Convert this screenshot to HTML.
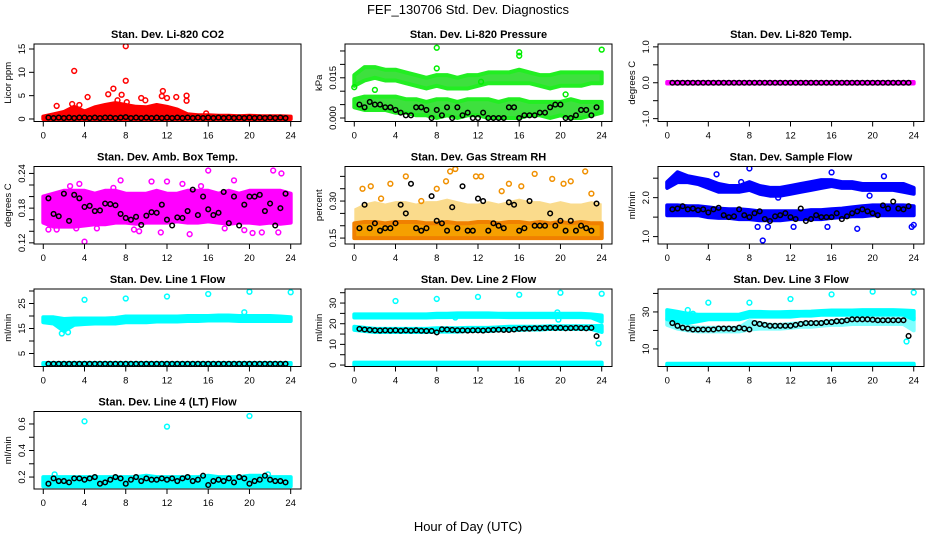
<!DOCTYPE html>
<html><head><meta charset="utf-8">
<style>
body{margin:0;background:#fff;}
svg{display:block;font-family:"Liberation Sans",sans-serif;}
</style></head>
<body>
<svg id="chart" width="936" height="540" viewBox="0 0 936 540" xmlns="http://www.w3.org/2000/svg">
<text x="468" y="14" text-anchor="middle" font-size="13">FEF_130706  Std. Dev. Diagnostics</text>
<text x="468" y="531" text-anchor="middle" font-size="13">Hour of Day (UTC)</text>
</svg>
<script>
// ---------- data ----------
const bandHours = [0,1,2,3,4,5,6,7,8,9,10,11,12,13,14,15,16,17,18,19,20,21,22,23,24];
const halfHours = [0.5,1,1.5,2,2.5,3,3.5,4,4.5,5,5.5,6,6.5,7,7.5,8,8.5,9,9.5,10,10.5,11,11.5,12,12.5,13,13.5,14,14.5,15,15.5,16,16.5,17,17.5,18,18.5,19,19.5,20,20.5,21,21.5,22,22.5,23,23.5];
const xTicks = [0,4,8,12,16,20,24];

// Li-820 CO2
const co2Lo = [0,0,0,0,0,0,0,0,0,0,0,0,0,0,0,0,0,0,0,0,0,0,0,0,0];
const co2Hi = [0.5,1.0,1.5,2.6,1.6,2.5,3.0,3.4,3.0,2.6,2.5,3.0,2.6,2.0,1.0,0.8,0.8,0.7,0.7,0.6,0.7,0.6,0.6,0.6,0.5];
const co2OutX = [3,8,8,2.8,1.3,4.3,6.8,6.3,7.6,8.1,9.5,9.9,11.6,11.5,12,13.9,13.9,12.9,7.2,15.8,3.5];
const co2OutY = [10.3,15.6,8.2,3.2,2.8,4.7,6.5,5.3,5.2,3.6,4.5,4.0,6.0,4.9,4.5,5.0,3.9,4.7,4.0,1.2,3.0];
const co2Black = [0.3,0.2,0.3,0.2,0.3,0.2,0.3,0.3,0.2,0.3,0.2,0.3,0.3,0.2,0.3,0.4,0.2,0.3,0.2,0.3,0.2,0.3,0.2,0.3,0.2,0.3,0.2,0.3,0.2,0.3,0.2,0.3,0.2,0.3,0.2,0.3,0.2,0.3,0.2,0.3,0.2,0.3,0.2,0.3,0.2,0.3,0.2];

// Li-820 Pressure
const presUpLo = [0.012,0.014,0.015,0.014,0.014,0.013,0.012,0.011,0.012,0.011,0.011,0.011,0.012,0.013,0.013,0.013,0.013,0.013,0.012,0.011,0.012,0.012,0.012,0.013,0.013];
const presUpHi = [0.016,0.019,0.019,0.018,0.018,0.017,0.016,0.015,0.016,0.016,0.015,0.016,0.016,0.017,0.017,0.017,0.018,0.017,0.016,0.016,0.017,0.017,0.017,0.017,0.017];
const presLowLo = [0.004,0.003,0.003,0.003,0.002,0.002,0.001,0.001,0.000,0.001,0.000,0.001,0.001,0.000,0.000,0.000,0.000,0.001,0.001,0.000,0.001,0.000,0.000,0.001,0.002];
const presLowHi = [0.007,0.008,0.008,0.008,0.008,0.007,0.007,0.006,0.007,0.007,0.006,0.007,0.007,0.007,0.006,0.007,0.007,0.006,0.006,0.006,0.006,0.007,0.006,0.006,0.006];
const presOutX = [8,16,16,24,8,0,2,12.3,20.5];
const presOutY = [0.0262,0.0245,0.0232,0.0255,0.0185,0.0115,0.0105,0.0135,0.0088];
const presBlack = [0.005,0.004,0.006,0.005,0.005,0.004,0.004,0.003,0.002,0.001,0.001,0.004,0.004,0.003,0.000,0.003,0.001,0.004,0.000,0.004,0.001,0.002,0.000,0.000,0.002,0.000,0.000,0.000,0.000,0.004,0.004,0.000,0.001,0.001,0.001,0.002,0.002,0.004,0.005,0.005,0.000,0.000,0.001,0.003,0.003,0.001,0.004];

// Li-820 Temp
const tempLo = [-0.02,-0.02,-0.02,-0.02,-0.02,-0.02,-0.02,-0.02,-0.02,-0.02,-0.02,-0.02,-0.02,-0.02,-0.02,-0.02,-0.02,-0.02,-0.02,-0.02,-0.02,-0.02,-0.02,-0.02,-0.02];
const tempHi = [0.02,0.02,0.02,0.02,0.02,0.02,0.02,0.02,0.02,0.02,0.02,0.02,0.02,0.02,0.02,0.02,0.02,0.02,0.02,0.02,0.02,0.02,0.02,0.02,0.02];
const tempBlack = [0,0,0,0,0,0,0,0,0,0,0,0,0,0,0,0,0,0,0,0,0,0,0,0,0,0,0,0,0,0,0,0,0,0,0,0,0,0,0,0,0,0,0,0,0,0,0];

// Amb. Box Temp
const boxLo = [0.155,0.148,0.148,0.148,0.150,0.152,0.152,0.155,0.155,0.153,0.155,0.155,0.155,0.157,0.155,0.155,0.157,0.155,0.153,0.155,0.155,0.153,0.155,0.153,0.155];
const boxHi = [0.200,0.205,0.210,0.210,0.210,0.205,0.210,0.210,0.205,0.205,0.205,0.210,0.205,0.205,0.210,0.210,0.210,0.205,0.210,0.205,0.210,0.210,0.210,0.210,0.205];
const boxOutX = [4,3.5,7.5,10.5,12,16,18.5,22.3,23.1,19.5,20.3,9.3,21.2,1.3,5.2,8.8,11.4,14.2,17.6,22.8,3.2,6.8,0.5,13.5,15.3,2.6];
const boxOutY = [0.122,0.222,0.228,0.226,0.226,0.245,0.228,0.245,0.240,0.142,0.137,0.140,0.138,0.143,0.145,0.143,0.138,0.135,0.145,0.138,0.145,0.215,0.143,0.222,0.218,0.218];
const boxBlack = [0.197,0.170,0.166,0.205,0.158,0.203,0.197,0.182,0.184,0.175,0.176,0.188,0.187,0.185,0.170,0.163,0.160,0.165,0.151,0.167,0.173,0.172,0.186,0.160,0.150,0.164,0.163,0.175,0.212,0.168,0.200,0.178,0.168,0.172,0.208,0.154,0.200,0.150,0.186,0.200,0.200,0.203,0.175,0.188,0.150,0.180,0.205];

// Gas Stream RH
const rhLo = [0.150,0.150,0.150,0.150,0.150,0.150,0.150,0.150,0.150,0.150,0.150,0.150,0.150,0.150,0.150,0.150,0.150,0.150,0.150,0.150,0.150,0.150,0.150,0.150,0.150];
const rhHi = [0.210,0.215,0.215,0.210,0.215,0.215,0.215,0.210,0.210,0.215,0.210,0.210,0.215,0.215,0.210,0.215,0.215,0.210,0.215,0.210,0.215,0.210,0.215,0.210,0.210];
const rhMidHi = [0.270,0.290,0.300,0.290,0.300,0.300,0.290,0.300,0.300,0.310,0.300,0.290,0.290,0.300,0.290,0.300,0.310,0.300,0.300,0.290,0.300,0.290,0.290,0.300,0.290];
const rhOutX = [0.8,1.6,3.5,5,8,9.3,9.8,8.9,11.8,12.3,15,16.2,17.5,19.2,20.3,21,23,14.3,6.5,2.6,22.4];
const rhOutY = [0.35,0.36,0.37,0.40,0.35,0.42,0.43,0.38,0.40,0.40,0.37,0.36,0.41,0.39,0.37,0.38,0.33,0.34,0.30,0.31,0.42];
const rhBlack = [0.19,0.285,0.19,0.21,0.18,0.19,0.19,0.21,0.285,0.25,0.37,0.19,0.18,0.19,0.32,0.22,0.21,0.18,0.275,0.19,0.36,0.18,0.18,0.31,0.30,0.18,0.21,0.20,0.19,0.295,0.285,0.18,0.19,0.30,0.20,0.20,0.20,0.25,0.20,0.22,0.18,0.22,0.18,0.20,0.19,0.18,0.29];

// Sample Flow
const sfUpLo = [2.25,2.40,2.40,2.35,2.25,2.15,2.15,2.15,2.20,2.10,2.05,2.05,2.10,2.15,2.20,2.25,2.30,2.25,2.25,2.20,2.20,2.20,2.20,2.15,2.10];
const sfUpHi = [2.40,2.65,2.55,2.50,2.45,2.35,2.30,2.30,2.40,2.30,2.25,2.25,2.30,2.35,2.40,2.45,2.45,2.40,2.40,2.35,2.35,2.35,2.35,2.35,2.25];
const sfLowLo = [1.55,1.55,1.55,1.55,1.50,1.48,1.48,1.45,1.45,1.42,1.42,1.42,1.45,1.45,1.45,1.45,1.48,1.50,1.52,1.52,1.55,1.55,1.55,1.55,1.55];
const sfLowHi = [1.80,1.80,1.78,1.78,1.75,1.72,1.70,1.70,1.68,1.65,1.65,1.65,1.65,1.65,1.68,1.68,1.70,1.72,1.75,1.78,1.80,1.80,1.80,1.80,1.78];
const sfOutX = [4.8,8,9.3,7.2,16,21.1,10.8,15.6,8.8,9.8,23.8,24,19.7,18.5,12.3];
const sfOutY = [2.60,2.75,0.90,2.40,2.65,2.55,2.00,1.25,1.25,1.25,1.25,1.30,2.05,1.20,1.25];
const sfBlack = [1.70,1.72,1.78,1.70,1.72,1.68,1.70,1.62,1.70,1.74,1.55,1.50,1.52,1.70,1.55,1.50,1.60,1.65,1.45,1.40,1.52,1.55,1.60,1.50,1.45,1.72,1.40,1.45,1.55,1.50,1.50,1.50,1.60,1.45,1.52,1.60,1.65,1.70,1.65,1.60,1.55,1.80,1.72,1.90,1.72,1.70,1.78];

// Line 1 Flow
const l1UpLo = [17.5,17.0,14.0,16.5,16.8,17.0,17.0,17.0,17.5,17.5,17.5,17.8,17.8,17.8,18.0,18.0,18.2,18.2,18.2,18.0,18.0,18.0,18.0,18.0,18.0];
const l1UpHi = [19.5,19.5,18.8,19.0,19.0,19.0,19.0,19.2,19.8,19.8,19.8,19.8,19.8,19.8,20.0,20.0,20.0,20.2,20.2,20.0,20.0,20.0,20.0,19.8,19.5];
const l1LowLo = [0.6,0.6,0.6,0.6,0.6,0.6,0.6,0.6,0.6,0.6,0.6,0.6,0.6,0.6,0.6,0.6,0.6,0.6,0.6,0.6,0.6,0.6,0.6,0.6,0.6];
const l1LowHi = [1.2,1.2,1.2,1.2,1.2,1.2,1.2,1.2,1.2,1.2,1.2,1.2,1.2,1.2,1.2,1.2,1.2,1.2,1.2,1.2,1.2,1.2,1.2,1.2,1.2];
const l1OutX = [4,8,12,16,20,24,19.5,1.8,2.4];
const l1OutY = [26.5,27.0,27.8,28.8,29.7,29.5,21.5,13.0,13.5];
const l1Black = [0.9,0.9,0.9,0.9,0.9,0.9,0.9,0.9,0.9,0.9,0.9,0.9,0.9,0.9,0.9,0.9,0.9,0.9,0.9,0.9,0.9,0.9,0.9,0.9,0.9,0.9,0.9,0.9,0.9,0.9,0.9,0.9,0.9,0.9,0.9,0.9,0.9,0.9,0.9,0.9,0.9,0.9,0.9,0.9,0.9,0.9,0.9];

// Line 2 Flow
const l2UpLo = [23.0,23.0,23.0,23.0,23.0,23.0,23.0,23.0,23.2,23.2,23.3,23.3,23.3,23.3,23.3,23.2,23.2,23.2,23.2,23.2,23.2,23.2,23.2,23.0,21.0];
const l2UpHi = [24.5,24.5,24.5,24.5,24.5,24.5,24.5,24.5,24.8,24.8,25.0,25.0,25.0,25.0,24.8,24.8,24.8,24.8,24.8,24.8,24.8,24.8,24.8,24.5,24.0];
const l2MidLo = [17.0,16.5,16.0,16.0,16.0,16.0,16.0,16.0,16.2,16.2,16.2,16.5,16.5,16.5,16.8,17.0,17.0,17.2,17.2,17.5,17.5,17.5,17.5,17.5,16.0];
const l2MidHi = [18.5,18.0,17.5,17.5,17.5,17.5,17.5,17.5,17.8,17.8,17.8,18.0,18.0,18.0,18.2,18.5,18.5,18.5,18.5,18.8,18.8,18.8,18.8,18.8,19.0];
const l2LowLo = [0,0,0,0,0,0,0,0,0,0,0,0,0,0,0,0,0,0,0,0,0,0,0,0,0];
const l2LowHi = [1.2,1.2,1.2,1.2,1.2,1.2,1.2,1.2,1.2,1.2,1.2,1.2,1.2,1.2,1.2,1.2,1.2,1.2,1.2,1.2,1.2,1.2,1.2,1.2,1.2];
const l2OutX = [4,8,12,16,20,24,23.7,19.7,19.8,9.8];
const l2OutY = [31.0,32.0,33.0,34.0,35.0,34.5,10.5,25.5,22.0,23.0];
const l2Black = [17.5,17.2,17.0,16.8,16.7,16.8,16.7,16.8,16.6,16.8,16.6,16.8,16.6,16.5,16.5,15.8,17.3,17.2,17.0,16.8,16.8,16.7,16.8,16.8,16.7,16.9,17.0,17.1,17.0,17.0,17.2,17.5,17.6,17.6,17.8,17.8,17.9,18.0,17.9,18.0,17.8,17.9,18.0,17.9,17.8,18.0,14.0];

// Line 3 Flow
const l3UpLo = [26.0,25.0,24.0,25.0,26.0,26.0,26.0,26.0,27.5,27.5,27.5,27.5,27.5,28.0,28.0,28.5,28.5,28.5,28.5,28.5,28.5,28.5,28.5,28.5,26.0];
const l3UpHi = [31.0,30.0,29.0,28.5,28.5,28.5,28.5,28.5,30.0,30.0,29.8,29.8,30.0,30.0,30.2,30.5,30.8,30.8,30.8,31.0,31.0,31.0,31.0,30.8,30.5];
const l3MidLo = [23.0,21.0,20.0,19.5,19.5,19.5,19.5,19.5,20.5,21.0,21.0,21.0,21.5,22.0,22.0,22.5,23.0,23.0,23.5,23.5,23.5,23.5,23.5,23.5,20.0];
const l3MidHi = [26.0,23.0,22.0,21.5,21.5,21.5,21.5,21.5,25.0,24.0,23.0,23.0,23.5,24.0,24.0,24.5,25.0,25.5,26.0,26.0,26.0,26.0,26.0,26.0,27.0];
const l3LowLo = [0,0,0,0,0,0,0,0,0,0,0,0,0,0,0,0,0,0,0,0,0,0,0,0,0];
const l3LowHi = [2.0,2.0,2.0,2.0,2.0,2.0,2.0,2.0,2.0,2.0,2.0,2.0,2.0,2.0,2.0,2.0,2.0,2.0,2.0,2.0,2.0,2.0,2.0,2.0,2.0];
const l3OutX = [4,8,12,16,20,24,2,2.5,23.3];
const l3OutY = [35.0,35.0,37.0,39.5,41.0,40.5,31.0,29.0,14.0];
const l3Black = [24.0,22.5,21.5,21.0,20.5,20.5,20.5,20.5,20.5,21.0,21.0,21.0,20.8,21.5,21.0,20.5,24.0,23.5,23.0,22.5,22.5,22.5,22.5,22.5,23.0,23.5,24.0,24.0,24.0,24.0,24.5,24.5,25.0,25.0,25.5,26.0,26.0,26.0,26.0,25.8,25.5,25.5,25.5,25.5,25.5,25.5,17.0];

// Line 4 (LT) Flow
const l4Lo = [0.13,0.13,0.13,0.13,0.13,0.13,0.13,0.13,0.13,0.13,0.13,0.13,0.13,0.13,0.13,0.13,0.13,0.13,0.13,0.13,0.13,0.13,0.13,0.13,0.13];
const l4Hi = [0.20,0.20,0.20,0.20,0.20,0.20,0.20,0.20,0.20,0.20,0.21,0.20,0.20,0.20,0.20,0.20,0.21,0.20,0.20,0.20,0.21,0.21,0.20,0.20,0.20];
const l4OutX = [4,12,20,1.1,21.8];
const l4OutY = [0.62,0.58,0.66,0.22,0.22];
const l4Black = [0.15,0.19,0.17,0.17,0.16,0.19,0.19,0.18,0.19,0.20,0.15,0.16,0.18,0.20,0.19,0.15,0.18,0.20,0.17,0.19,0.18,0.18,0.19,0.18,0.19,0.17,0.19,0.20,0.17,0.18,0.21,0.14,0.17,0.18,0.17,0.19,0.16,0.20,0.19,0.15,0.17,0.18,0.21,0.18,0.17,0.17,0.16];

// ---------- layout ----------
const cols = [[34,301],[345,612],[658,924]];
const rows = [[44,121.5],[166.5,244],[289,366.5],[411.5,489]];
const XMIN = -0.9, XMAX = 25.0;

const panels = [
 {name:'co2',title:'Stan. Dev. Li-820 CO2',ylab:'Licor ppm',c:0,r:0,ymin:-0.54,ymax:16.07,ticks:[0,5,10,15],labels:['0','5','10','15'],
  bands:[{lo:co2Lo,hi:co2Hi,fill:'#ff0000',stroke:'#ff0000'}],outX:co2OutX,outY:co2OutY,oc:'#ff0000',black:co2Black},
 {name:'pressure',title:'Stan. Dev. Li-820 Pressure',ylab:'kPa',c:1,r:0,ymin:-0.0013,ymax:0.0276,ticks:[0,0.005,0.01,0.015,0.02,0.025],labels:['0.000','','','0.015','',''],
  bands:[{lo:presUpLo,hi:presUpHi,fill:'#3ee03e',stroke:'#22ee22'},{lo:presLowLo,hi:presLowHi,fill:'#3ee03e',stroke:'#22ee22'}],outX:presOutX,outY:presOutY,oc:'#00ee00',black:presBlack},
 {name:'li820-temp',title:'Stan. Dev. Li-820 Temp.',ylab:'degrees C',c:2,r:0,ymin:-1.08,ymax:1.08,ticks:[-1,-0.5,0,0.5,1],labels:['-1.0','','0.0','','1.0'],
  bands:[{lo:tempLo,hi:tempHi,fill:'#ff00ff',stroke:'#ff00ff'}],outX:[],outY:[],oc:'#ff00ff',black:tempBlack},
 {name:'box-temp',title:'Stan. Dev. Amb. Box Temp.',ylab:'degrees C',c:0,r:1,ymin:0.118,ymax:0.252,ticks:[0.12,0.14,0.16,0.18,0.20,0.22,0.24],labels:['0.12','','','0.18','','','0.24'],
  bands:[{lo:boxLo,hi:boxHi,fill:'#ff00ff',stroke:'#ff00ff'}],outX:boxOutX,outY:boxOutY,oc:'#ff00ff',black:boxBlack},
 {name:'rh',title:'Stan. Dev. Gas Stream RH',ylab:'percent',c:1,r:1,ymin:0.126,ymax:0.44,ticks:[0.15,0.20,0.25,0.30,0.35,0.40],labels:['0.15','','','0.30','',''],
  bands:[{lo:rhHi,hi:rhMidHi,fill:'#f5b000',stroke:'none',op:0.45},{lo:rhLo,hi:rhHi,fill:'#f5a000',stroke:'#f08000'}],outX:rhOutX,outY:rhOutY,oc:'#f09000',black:rhBlack},
 {name:'sample-flow',title:'Stan. Dev. Sample Flow',ylab:'ml/min',c:2,r:1,ymin:0.81,ymax:2.8,ticks:[1.0,1.5,2.0,2.5],labels:['1.0','','2.0',''],
  bands:[{lo:sfUpLo,hi:sfUpHi,fill:'#0000ff',stroke:'#0000ff'},{lo:sfLowLo,hi:sfLowHi,fill:'#0000ff',stroke:'#0000ff'}],outX:sfOutX,outY:sfOutY,oc:'#0000ff',black:sfBlack},
 {name:'line1-flow',title:'Stan. Dev. Line 1 Flow',ylab:'ml/min',c:0,r:2,ymin:-0.2,ymax:30.8,ticks:[5,10,15,20,25,30],labels:['5','','15','','25',''],
  bands:[{lo:l1UpLo,hi:l1UpHi,fill:'#00ffff',stroke:'#00ffff'},{lo:l1LowLo,hi:l1LowHi,fill:'#00ffff',stroke:'#00ffff'}],outX:l1OutX,outY:l1OutY,oc:'#00ffff',black:l1Black},
 {name:'line2-flow',title:'Stan. Dev. Line 2 Flow',ylab:'ml/min',c:1,r:2,ymin:-0.7,ymax:36.8,ticks:[0,5,10,15,20,25,30,35],labels:['0','','10','','20','','30',''],
  bands:[{lo:l2UpLo,hi:l2UpHi,fill:'#00ffff',stroke:'#00ffff'},{lo:l2MidLo,hi:l2MidHi,fill:'#00ffff',stroke:'#00ffff'},{lo:l2LowLo,hi:l2LowHi,fill:'#00ffff',stroke:'#00ffff'}],outX:l2OutX,outY:l2OutY,oc:'#00ffff',black:l2Black},
 {name:'line3-flow',title:'Stan. Dev. Line 3 Flow',ylab:'ml/min',c:2,r:2,ymin:0.5,ymax:42.4,ticks:[10,20,30,40],labels:['10','','30',''],
  bands:[{lo:l3UpLo,hi:l3UpHi,fill:'#00ffff',stroke:'#00ffff'},{lo:l3MidLo,hi:l3MidHi,fill:'#00ffff',stroke:'#00ffff',op:0.5},{lo:l3LowLo,hi:l3LowHi,fill:'#00ffff',stroke:'#00ffff'}],outX:l3OutX,outY:l3OutY,oc:'#00ffff',black:l3Black},
 {name:'line4-flow',title:'Stan. Dev. Line 4 (LT) Flow',ylab:'ml/min',c:0,r:3,ymin:0.11,ymax:0.694,ticks:[0.2,0.3,0.4,0.5,0.6],labels:['0.2','','0.4','','0.6'],
  bands:[{lo:l4Lo,hi:l4Hi,fill:'#00ffff',stroke:'#00ffff'}],outX:l4OutX,outY:l4OutY,oc:'#00ffff',black:l4Black}
];

const NS = 'http://www.w3.org/2000/svg';
const svg = document.getElementById('chart');
function mk(tag, attrs, parent){
  const e = document.createElementNS(NS, tag);
  for (const k in attrs) e.setAttribute(k, attrs[k]);
  (parent||svg).appendChild(e);
  return e;
}

panels.forEach((p, pi) => {
  const [x0,x1] = cols[p.c], [y0,y1] = rows[p.r];
  const sx = h => x0 + (h - XMIN) / (XMAX - XMIN) * (x1 - x0);
  const sy = v => y1 - (v - p.ymin) / (p.ymax - p.ymin) * (y1 - y0);
  const g = mk('g', {});
  
  
  const cp = mk('clipPath', {id:'clip'+pi}, g);
  mk('rect', {x:x0, y:y0, width:x1-x0, height:y1-y0}, cp);
  const plot = mk('g', {'clip-path':'url(#clip'+pi+')'}, g);

  p.bands.forEach((b, bi) => {
    let pts = [];
    bandHours.forEach((h,i) => pts.push(sx(h).toFixed(1)+','+sy(b.hi[i]).toFixed(1)));
    for (let i = bandHours.length-1; i >= 0; i--) pts.push(sx(bandHours[i]).toFixed(1)+','+sy(b.lo[i]).toFixed(1));
    const poly = mk('polygon', {points:pts.join(' '), fill:b.fill, stroke:b.stroke, 'stroke-width':4, 'stroke-linejoin':'round', opacity:(b.op||1)}, plot);
    
    
  });
  p.outX.forEach((h,i) => {
    const c = mk('circle', {cx:sx(h), cy:sy(p.outY[i]), r:2.4, fill:'none', stroke:p.oc, 'stroke-width':1.5}, plot);
    
    
  });
  halfHours.forEach((h,i) => {
    if (p.black[i] === undefined) return;
    const c = mk('circle', {cx:sx(h), cy:sy(p.black[i]), r:2.3, fill:'none', stroke:'#000', 'stroke-width':1.5}, plot);
    
    
  });

  const box = mk('rect', {x:x0, y:y0, width:x1-x0, height:y1-y0, fill:'none', stroke:'#000', 'stroke-width':1}, g);
  
  

  const t = mk('text', {x:(x0+x1)/2, y:y0-6, 'text-anchor':'middle', 'font-size':11, 'font-weight':'bold'}, g);
  t.textContent = p.title;
  
  

  xTicks.forEach(h => {
    mk('line', {x1:sx(h), x2:sx(h), y1:y1, y2:y1+5, stroke:'#000'}, g);
    const l = mk('text', {x:sx(h), y:y1+17, 'text-anchor':'middle', 'font-size':9.5}, g);
    l.textContent = h;
    
    
  });
  p.ticks.forEach((v,i) => {
    const y = sy(v);
    mk('line', {x1:x0-5, x2:x0, y1:y, y2:y, stroke:'#000'}, g);
    if (p.labels[i]) {
      const l = mk('text', {x:0, y:0, 'text-anchor':'middle', 'font-size':9.5, transform:'translate('+(x0-9)+','+y+') rotate(-90)'}, g);
      l.textContent = p.labels[i];
      
      
    }
  });
  const yl = mk('text', {x:0, y:0, 'text-anchor':'middle', 'font-size':9.5, transform:'translate('+(x0-23)+','+((y0+y1)/2)+') rotate(-90)'}, g);
  yl.textContent = p.ylab;
  
  
});
</script>
</body></html>
